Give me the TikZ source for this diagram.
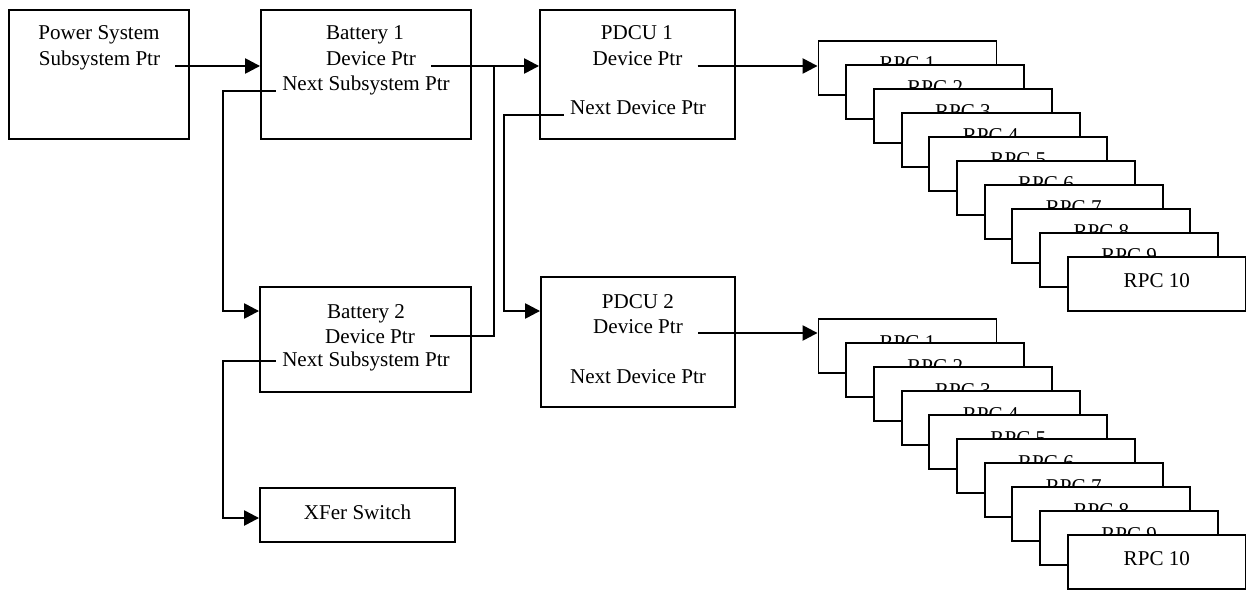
\documentclass[tikz,border=0pt]{standalone}
\usepackage{fontspec}
\setmainfont{Liberation Serif}
\usepackage{tikz}
\usetikzlibrary{arrows.meta}

\begin{document}
\begin{tikzpicture}[x=0.02cm,y=-0.02cm,font=\fontsize{12pt}{14pt}\selectfont,>={Triangle[length=0.3cm,width=0.3cm]}]
    \tikzstyle{box}=[draw, line width=1.1pt, rectangle, inner sep=0pt, fill=white]
    \tikzstyle{txt}=[inner xsep=0pt, inner ysep=0pt, anchor=base]
    \tikzstyle{dev}=[txt, inner xsep=0.3cm]
    \tikzstyle{nxt}=[txt, inner xsep=0.12cm]
    \tikzstyle{ptr}=[line width=1.4pt]
    \tikzstyle{rpc}=[box, minimum width=3.56cm, minimum height=1.08cm, text height=0.28cm, text depth=0.16cm]

    \useasboundingbox (0,0) rectangle (1246,591);

    \node[box, minimum width=3.6cm,  minimum height=2.58cm] (ps)   at (99,74.5)    {};
    \node[box, minimum width=4.2cm,  minimum height=2.58cm] (b1)   at (366,74.5)   {};
    \node[box, minimum width=4.22cm, minimum height=2.1cm]  (b2)   at (365.5,339.5) {};
    \node[box, minimum width=3.9cm,  minimum height=2.58cm] (pd1)  at (637.5,74.5) {};
    \node[box, minimum width=3.88cm, minimum height=2.6cm]  (pd2)  at (638,342)    {};
    \node[box, minimum width=3.9cm,  minimum height=1.08cm, text depth=0.12cm] (xfer) at (357.5,515) {XFer Switch};

    \node[txt] (pstxt)  at (99,40)   {Power System};
    \node[dev] (pssub)  at (99.5,66) {Subsystem Ptr};
    \node[txt] (b1txt)  at (365,40)  {Battery 1};
    \node[dev] (b1dev)  at (371,66)  {Device Ptr};
    \node[nxt] (b1nxt)  at (366,91)  {Next Subsystem Ptr};
    \node[txt] (b2txt)  at (366,318) {Battery 2};
    \node[dev] (b2dev)  at (370,343) {Device Ptr};
    \node[nxt] (b2nxt)  at (366,366) {Next Subsystem Ptr};
    \node[txt] (pd1txt) at (637,40)  {PDCU 1};
    \node[dev] (pd1dev) at (637.5,66) {Device Ptr};
    \node[nxt] (pd1nxt) at (638,115) {Next Device Ptr};
    \node[txt] (pd2txt) at (638,308) {PDCU 2};
    \node[dev] (pd2dev) at (638,333) {Device Ptr};
    \node[nxt] (pd2nxt) at (638,383) {Next Device Ptr};

    \foreach \k in {1,...,10} {
        \node[rpc] (rpca\k) at ({907.5+27.7*(\k-1)},{68+24*(\k-1)})  {RPC \k};
    }
    \foreach \k in {1,...,10} {
        \node[rpc] (rpcb\k) at ({907.5+27.7*(\k-1)},{346+24*(\k-1)}) {RPC \k};
    }

    \coordinate (j1) at (223,311);
    \coordinate (j2) at (494,0);
    \coordinate (j3) at (504,311);
    \coordinate (j4) at (223,518);

    \draw[ptr,->] (pssub.base east) -- (pssub.base east -| b1.west);
    \draw[ptr,->] (b1dev.base east) -- (b1dev.base east -| pd1.west);
    \draw[ptr,->] (b1nxt.base west) -| (j1) -- (j1 -| b2.west);
    \draw[ptr]    (b2dev.east) -| (j2 |- b1dev.base);
    \draw[ptr,->] (pd1nxt.base west) -| (j3) -- (j3 -| pd2.west);
    \draw[ptr,->] (b2nxt.west) -| (j4) -- (j4 -| xfer.west);
    \draw[ptr,->] (pd1dev.base east) -- (pd1dev.base east -| rpca1.west);
    \draw[ptr,->] (pd2dev.base east) -- (pd2dev.base east -| rpcb1.west);
\end{tikzpicture}
\end{document}
